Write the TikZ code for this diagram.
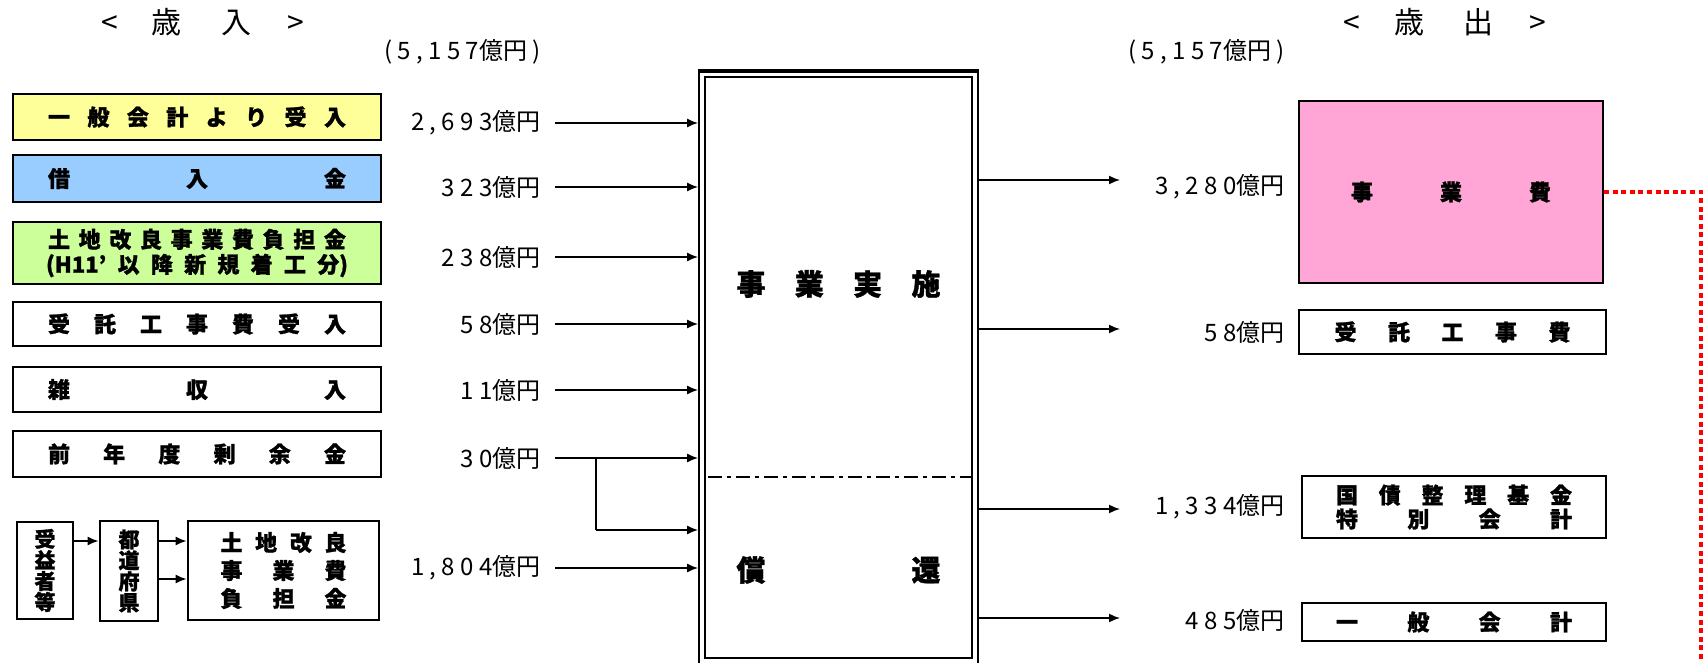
\documentclass[tikz,border=0pt]{standalone}
\usepackage{fontspec}
\setmainfont{Noto Sans CJK JP}[BoldFeatures={FakeBold=1.2}]
\usetikzlibrary{arrows.meta}
\definecolor{inyellow}{HTML}{FFFF99}
\definecolor{inblue}{HTML}{99CCFF}
\definecolor{ingreen}{HTML}{CCFF99}
\definecolor{outpink}{HTML}{FFA6D6}
\definecolor{dotred}{HTML}{FF0000}

\begin{document}
\begin{tikzpicture}[
  x=0.5pt,y=-0.5pt,
  every node/.style={font=\fontsize{11}{12.5}\selectfont\bfseries,align=center,inner sep=0pt},
  inbox/.style={draw,line width=1.4pt,minimum width=184pt},
  colbox/.style={inbox,line width=0.9pt},
  outbox/.style={draw,line width=1.4pt},
  amt/.style={font=\fontsize{12}{14}\selectfont,anchor=east,inner xsep=7pt},
  ttl/.style={font=\fontsize{15}{17}\selectfont},
  arr/.style={-{Latex[length=5.5pt,width=4.5pt]},line width=0.8pt},
  sepline/.style={line width=1.3pt,dash pattern=on 7pt off 2.5pt on 2pt off 2.5pt},
  redline/.style={line width=2pt,color=dotred,dash pattern=on 2.5pt off 1.8pt}
]
\useasboundingbox (0,0) rectangle (1704,663);
\node[ttl] (tin) at (203,22) {<\hspace{17pt}歳\hspace{20pt}入\hspace{18pt}>};
\node[ttl] (tout) at (1445,22) {<\hspace{17pt}歳\hspace{20pt}出\hspace{18pt}>};
\node[amt] (tot1) at (555,52) {( 5 , 1 5 7億円 )};
\node[amt] (tot2) at (1299,52) {( 5 , 1 5 7億円 )};

\node[colbox,fill=inyellow,minimum height=23pt] (r1) at (197,117) {\makebox[149pt][s]{一 般 会 計 よ り 受 入}};
\node[colbox,fill=inblue,minimum height=23.5pt] (r2) at (197,178.5) {\makebox[149pt][s]{借 入 金}};
\node[colbox,fill=ingreen,minimum height=31pt] (r3) at (197,253)
  {\makebox[149pt][s]{土 地 改 良 事 業 費 負 担 金}\\\makebox[151pt][s]{(H11' 以 降 新 規 着 工 分)}};
\node[inbox,minimum height=22pt] (r4) at (197,324) {\makebox[149pt][s]{受 託 工 事 費 受 入}};
\node[inbox,minimum height=22.5pt] (r5) at (197,389.5) {\makebox[149pt][s]{雑 収 入}};
\node[inbox,minimum height=23pt] (r6) at (197,454) {\makebox[149pt][s]{前 年 度 剰 余 金}};
\node[inbox,minimum width=28pt,minimum height=48.5pt,font=\fontsize{10.5}{10.5}\selectfont\bfseries] (p1) at (45,570.5) {受\\益\\者\\等};
\node[inbox,minimum width=29pt,minimum height=50pt,font=\fontsize{10.5}{10.5}\selectfont\bfseries] (p2) at (129,571) {都\\道\\府\\県};
\node[inbox,minimum width=95.5pt,minimum height=49.5pt,font=\fontsize{11}{14}\selectfont\bfseries] (p3) at (283.5,570.5)
  {\makebox[63pt][s]{土 地 改 良}\\\makebox[63pt][s]{事 業 費}\\\makebox[63pt][s]{負 担 金}};
\coordinate (q1) at ([yshift=14.75pt]p1.east);
\coordinate (q2) at ([yshift=15pt]p2.east);
\coordinate (q3) at ([yshift=-4pt]p2.east);
\draw[arr] (q1) -- (q1 -| p2.west);
\draw[arr] (q2) -- (q2 -| p3.west);
\draw[arr] (q3) -- (q3 -| p3.west);

\node[amt] (a1) at (555,123) {2 , 6 9 3億円};
\node[amt] (a2) at (555,187) {3 2 3億円};
\node[amt] (a3) at (555,257) {2 3 8億円};
\node[amt] (a4) at (555,324) {5 8億円};
\node[amt] (a5) at (555,390) {1 1億円};
\node[amt] (a6) at (555,458) {3 0億円};
\node[amt] (a7) at (555,568) {1 , 8 0 4億円};

\node[draw,line width=0.9pt,minimum width=139.5pt,minimum height=309pt] (outer) at (838.5,381) {};
\draw[line width=1.8pt] (outer.north west) -- (outer.north east);
\node[draw,line width=1.1pt,minimum width=133.5pt,minimum height=290.5pt] (main) at (838.5,367.5) {};
\node[font=\fontsize{14.5}{16}\selectfont\bfseries] (jisshi) at (838.5,284) {\makebox[102pt][s]{事 業 実 施}};
\node[font=\fontsize{14.5}{16}\selectfont\bfseries] (shokan) at (838.5,570) {\makebox[102pt][s]{償 還}};
\coordinate (sep) at (838.5,477);
\draw[sepline] ([xshift=2pt]main.west |- sep) -- (main.east |- sep);

\foreach \i in {1,...,7}
  \draw[arr] (a\i) -- (a\i -| outer.west);
\coordinate (br) at ([xshift=20.5pt]a6.east);
\coordinate (brend) at (596,530);
\draw[line width=0.6pt] (br) -- (brend);
\draw[arr] (brend) -- (brend -| outer.west);

\node[draw,line width=0.9pt,fill=outpink,minimum width=152pt,minimum height=91pt] (x1) at (1451,192) {\makebox[100pt][s]{事 業 費}};
\node[outbox,minimum width=153.5pt,minimum height=22pt] (x2) at (1452.5,332) {\makebox[118pt][s]{受 託 工 事 費}};
\node[outbox,minimum width=152pt,minimum height=31pt,font=\fontsize{11}{12}\selectfont\bfseries] (x3) at (1454,507)
  {\makebox[118pt][s]{国 債 整 理 基 金}\\\makebox[118pt][s]{特 別 会 計}};
\node[outbox,minimum width=152pt,minimum height=19pt] (x4) at (1454,622) {\makebox[118pt][s]{一 般 会 計}};

\node[amt] (e1) at (1299,187) {3 , 2 8 0億円};
\node[amt] (e2) at (1299,332) {5 8億円};
\node[amt] (e3) at (1299,507) {1 , 3 3 4億円};
\node[amt] (e4) at (1299,620) {4 8 5億円};
\coordinate (t1) at (1120,180);
\coordinate (t2) at (1120,329);
\coordinate (t3) at (1120,509);
\coordinate (t4) at (1120,618);
\foreach \i in {1,...,4}
  \draw[arr] (outer.east |- t\i) -- (t\i);

\coordinate (rbot) at (1701,700);
\draw[redline] (x1.east) -- (x1.east -| rbot) -- (rbot);
\end{tikzpicture}
\end{document}
